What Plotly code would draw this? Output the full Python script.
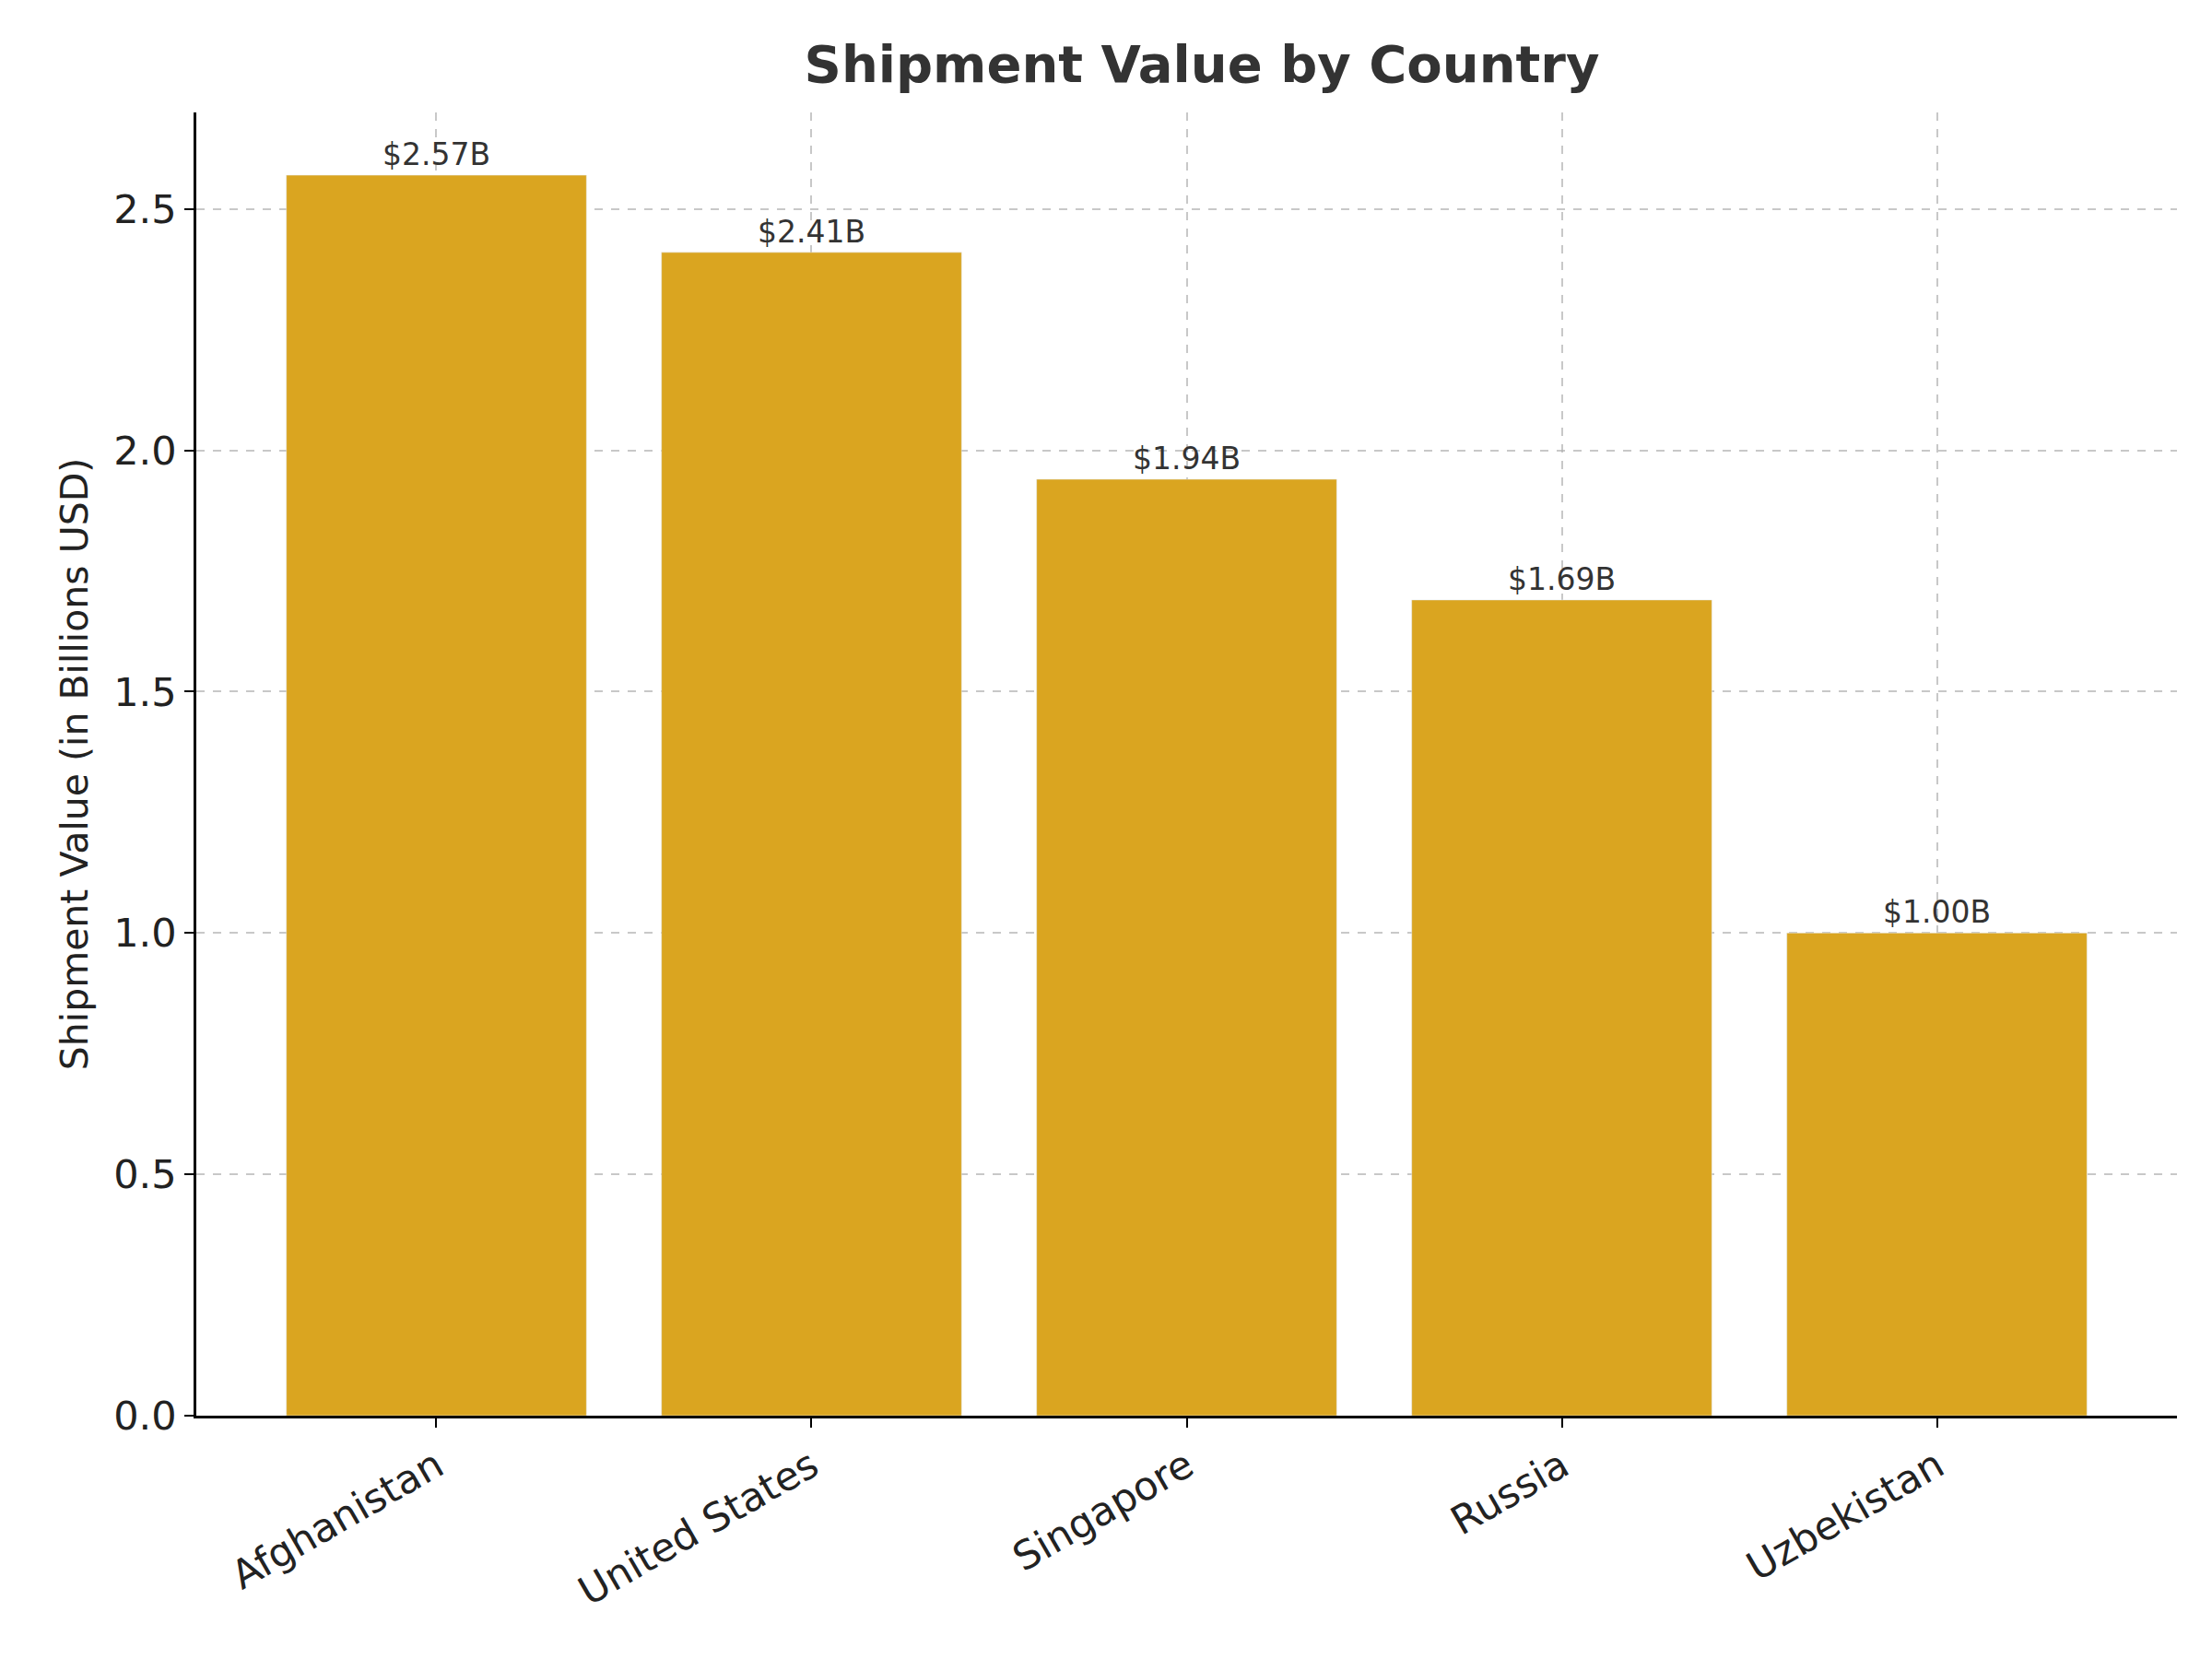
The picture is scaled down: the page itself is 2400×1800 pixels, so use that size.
import plotly.graph_objects as go

countries = ["Afghanistan", "United States", "Singapore", "Russia", "Uzbekistan"]
values = [2.57, 2.41, 1.94, 1.69, 1.00]
labels = ["$2.57B", "$2.41B", "$1.94B", "$1.69B", "$1.00B"]

fig = go.Figure(go.Bar(
    x=countries, y=values, marker_color="#DAA520", width=0.8,
    text=labels, textposition="outside", cliponaxis=False,
    textfont=dict(size=33, color="#333333"),
))

axis_common = dict(
    showline=True, linecolor="black", linewidth=2.5,
    ticks="outside", ticklen=10, tickwidth=2, tickcolor="black",
    showgrid=True, gridcolor="rgba(176,176,176,0.7)", griddash="dash", gridwidth=1.5,
    tickfont=dict(size=43, color="#222222"), layer="above traces",
)

fig.update_layout(
    width=2400, height=1800,
    paper_bgcolor="white", plot_bgcolor="white",
    font=dict(family="DejaVu Sans"),
    margin=dict(l=205, r=46, t=114, b=272),
    title=dict(text="<b>Shipment Value by Country</b>", x=0.54, xanchor="center",
               y=0.977, font=dict(size=56, color="#333333")),
    showlegend=False,
)
fig.update_xaxes(tickangle=-30, range=[-0.64, 4.64], **axis_common)
fig.update_yaxes(range=[0, 2.7], dtick=0.5, tickformat=".1f", zeroline=False,
                 title=dict(text="Shipment Value (in Billions USD)", font=dict(size=41, color="#222222")),
                 **axis_common)

fig.write_html("out.html")
